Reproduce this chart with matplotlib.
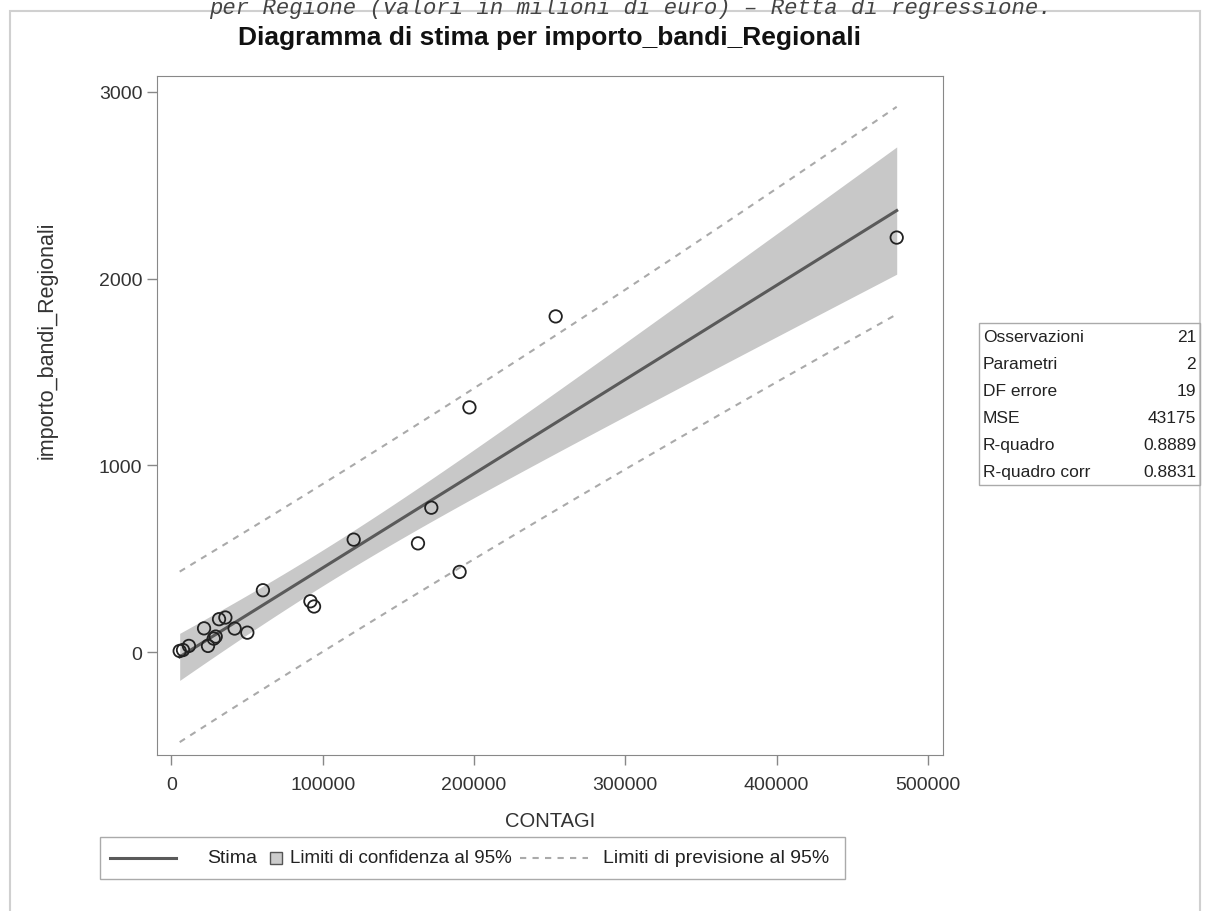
import numpy as np
import matplotlib.pyplot as plt
from matplotlib.patches import Rectangle
from matplotlib.lines import Line2D

# contagi vs importo bandi regionali (milioni di euro), 21 regioni
contagi = [479400, 254000, 197000, 171800, 120500, 163000, 190500, 60500,
           91900, 94300, 35700, 31500, 21600, 41800, 50200, 29300, 28000,
           24200, 11600, 7700, 5500]
importo = [2220, 1798, 1311, 774, 603, 583, 430, 332, 273, 245, 186, 177,
           128, 127, 105, 84, 73, 34, 34, 12, 7]

stat_labels = ['Osservazioni', 'Parametri', 'DF errore', 'MSE', 'R-quadro', 'R-quadro corr']
stat_values = ['21', '2', '19', '43175', '0.8889', '0.8831']

x = np.array(contagi, dtype=float)
y = np.array(importo, dtype=float)

# retta di regressione + limiti al 95%
n = len(x)
b1, b0 = np.polyfit(x, y, 1)
resid = y - (b0 + b1 * x)
s = np.sqrt(np.sum(resid ** 2) / (n - 2))
t = 2.093  # t(0.975, 19)
xs = np.linspace(x.min(), x.max(), 200)
fit = b0 + b1 * xs
sxx = np.sum((x - x.mean()) ** 2)
ci = t * s * np.sqrt(1.0 / n + (xs - x.mean()) ** 2 / sxx)
pi = t * s * np.sqrt(1 + 1.0 / n + (xs - x.mean()) ** 2 / sxx)

W, H = 1205, 912
fig = plt.figure(figsize=(W / 100, H / 100), dpi=100)
plt.rcParams['font.family'] = ['Liberation Sans', 'DejaVu Sans']

line_col = '#5a5a5a'
band_col = '#c8c8c8'
pred_col = '#aaaaaa'
pred_ls = (0, (3, 3))

ax = fig.add_axes([157 / W, 1 - 756 / H, (943 - 157) / W, (756 - 77) / H])

ax.fill_between(xs, fit - ci, fit + ci, color=band_col, lw=0)
ax.plot(xs, fit, color=line_col, lw=2.2)
ax.plot(xs, fit + pi, color=pred_col, lw=1.5, ls=pred_ls)
ax.plot(xs, fit - pi, color=pred_col, lw=1.5, ls=pred_ls)
ax.scatter(x, y, s=80, facecolors='none', edgecolors='#222222', linewidths=1.3, zorder=5)

ax.set_xlim(-9500, 510000)
ax.set_ylim(-550, 3085)
ax.set_xticks([0, 100000, 200000, 300000, 400000, 500000])
ax.set_yticks([0, 1000, 2000, 3000])
ax.ticklabel_format(style='plain', useOffset=False)
ax.tick_params(labelsize=14, colors='#333333', length=7, width=1)
ax.tick_params(axis='x', pad=8)
ax.tick_params(color='#888888')
for sp in ax.spines.values():
    sp.set_color('#888888')

ax.set_xlabel('CONTAGI', fontsize=14.5, color='#333333', labelpad=13)
fig.text(47 / W, 1 - 340 / H, 'importo_bandi_Regionali', rotation=90,
         ha='center', va='center', fontsize=15.5, color='#333333')

fig.text(550 / W, 1 - 38 / H, 'Diagramma di stima per importo_bandi_Regionali',
         ha='center', va='center', fontsize=19, fontweight='bold', color='#111111')

# testo tagliato in alto
fig.text(630 / W, 1 - 14 / H, 'per Regione (valori in milioni di euro) \u2013 Retta di regressione.',
         ha='center', va='baseline', fontsize=16, style='italic',
         family='Liberation Mono', color='#444444')

# cornice esterna
fig.patches.append(Rectangle((10 / W, -0.01), (1200 - 10) / W, 1.01 - 12 / H,
                             transform=fig.transFigure, fill=False,
                             edgecolor='#d0d0d0', lw=1.5))

# tabella statistiche
tx0, tx1, ty0, ty1 = 979, 1200, 324, 486
fig.patches.append(Rectangle((tx0 / W, 1 - ty1 / H), (tx1 - tx0) / W, (ty1 - ty0) / H,
                             transform=fig.transFigure, fill=False,
                             edgecolor='#aaaaaa', lw=1))
row_h = (ty1 - ty0) / len(stat_labels)
for i, (lab, val) in enumerate(zip(stat_labels, stat_values)):
    yy = 1 - (ty0 + row_h * (i + 0.5)) / H
    fig.text((tx0 + 4) / W, yy, lab, ha='left', va='center', fontsize=12.5, color='#222222')
    fig.text((tx1 - 4) / W, yy, val, ha='right', va='center', fontsize=12.5, color='#222222')

# legenda disegnata a mano
ly = 1 - 859 / H
fig.patches.append(Rectangle((100 / W, 1 - 880 / H), (845 - 100) / W, 42 / H,
                             transform=fig.transFigure, fill=False,
                             edgecolor='#aaaaaa', lw=1))
fig.lines.append(Line2D([110 / W, 176 / W], [ly, ly], transform=fig.transFigure,
                        color=line_col, lw=2.2))
fig.text(207 / W, ly, 'Stima', ha='left', va='center', fontsize=14, color='#222222')
fig.lines.append(Line2D([276 / W], [ly], transform=fig.transFigure, marker='s',
                        markersize=9, markerfacecolor='#cccccc',
                        markeredgecolor='#555555', linestyle='None'))
fig.text(290 / W, ly, 'Limiti di confidenza al 95%', ha='left', va='center',
         fontsize=13.5, color='#222222')
fig.lines.append(Line2D([520 / W, 588 / W], [ly, ly], transform=fig.transFigure,
                        color=pred_col, lw=1.5, ls=pred_ls))
fig.text(603 / W, ly, 'Limiti di previsione al 95%', ha='left', va='center',
         fontsize=14, color='#222222')

fig.savefig('out.png', dpi=100)
